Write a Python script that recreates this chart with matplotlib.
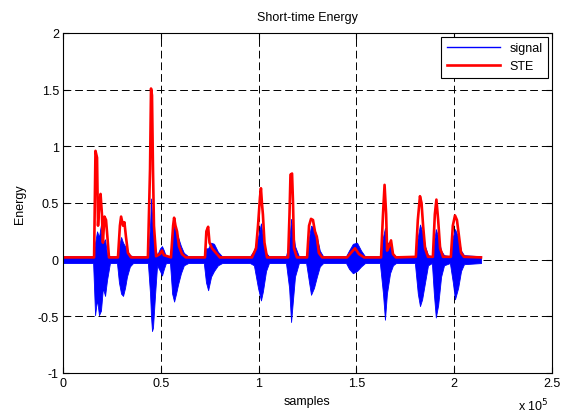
import numpy as np
import matplotlib
matplotlib.use("Agg")
import matplotlib.pyplot as plt

# envelope of the speech signal, x in thousands of samples
sig_k = [0, 15.4, 16.4, 17.4, 18.4, 19.4, 20.4, 21.5, 22.5, 24.0,
         27.6, 28.6, 29.7, 30.7, 31.7, 32.7, 34.2, 35.8,
         43.4, 44.5, 45.0, 45.5, 46.0, 47.1, 48.1, 49.6, 50.6, 51.6, 52.6,
         54.7, 55.8, 56.8, 57.8, 58.8, 60.3, 61.8, 64.0,
         72.0, 73.1, 74.2, 75.7, 77.2, 79.2, 81.3,
         95.6, 97.6, 99.7, 101.2, 102.2, 103.8, 105.3,
         114.0, 115.6, 116.6, 117.6, 118.6, 120.6,
         124.3, 125.8, 126.8, 128.3, 129.8, 131.3, 133.0,
         144.7, 146.2, 148.2, 150.3, 152.4, 154.4,
         162.0, 163.6, 164.6, 165.6, 167.2, 168.7, 170.2,
         179.9, 181.4, 182.5, 183.6, 185.1, 186.6,
         188.6, 189.6, 190.6, 191.8, 193.3, 194.8,
         197.8, 199.3, 200.4, 202.0, 203.5, 205.0, 213.7]
sig_hi = [0.03, 0.03, 0.15, 0.25, 0.20, 0.31, 0.15, 0.18, 0.05, 0.03,
          0.03, 0.12, 0.20, 0.15, 0.12, 0.08, 0.04, 0.03,
          0.03, 0.30, 0.54, 0.40, 0.25, 0.10, 0.04, 0.10, 0.12, 0.08, 0.03,
          0.03, 0.20, 0.30, 0.25, 0.20, 0.12, 0.06, 0.03,
          0.03, 0.10, 0.10, 0.15, 0.14, 0.07, 0.03,
          0.03, 0.08, 0.20, 0.32, 0.20, 0.06, 0.03,
          0.03, 0.15, 0.36, 0.25, 0.12, 0.03,
          0.03, 0.20, 0.30, 0.28, 0.20, 0.08, 0.03,
          0.03, 0.08, 0.14, 0.15, 0.08, 0.03,
          0.03, 0.20, 0.28, 0.15, 0.15, 0.05, 0.03,
          0.03, 0.20, 0.31, 0.25, 0.12, 0.04,
          0.03, 0.15, 0.27, 0.20, 0.08, 0.04,
          0.03, 0.20, 0.27, 0.20, 0.08, 0.04, 0.03]
sig_lo = [-0.03, -0.03, -0.49, -0.35, -0.49, -0.45, -0.25, -0.32, -0.18, -0.03,
          -0.03, -0.20, -0.30, -0.32, -0.25, -0.15, -0.06, -0.03,
          -0.03, -0.30, -0.50, -0.63, -0.60, -0.30, -0.05, -0.10, -0.14, -0.08, -0.03,
          -0.03, -0.30, -0.37, -0.30, -0.22, -0.12, -0.05, -0.03,
          -0.03, -0.20, -0.27, -0.15, -0.10, -0.05, -0.03,
          -0.03, -0.05, -0.25, -0.36, -0.28, -0.10, -0.03,
          -0.03, -0.25, -0.55, -0.35, -0.15, -0.03,
          -0.03, -0.20, -0.31, -0.25, -0.15, -0.06, -0.03,
          -0.03, -0.08, -0.12, -0.10, -0.06, -0.03,
          -0.03, -0.30, -0.53, -0.30, -0.12, -0.05, -0.03,
          -0.03, -0.30, -0.41, -0.35, -0.20, -0.05,
          -0.03, -0.30, -0.51, -0.40, -0.15, -0.05,
          -0.03, -0.20, -0.35, -0.25, -0.10, -0.04, -0.03]

# short-time energy curve
ste_k = [0, 15.9, 16.6, 17.4, 17.9, 18.4, 19.2, 19.9, 20.4, 21.2, 22.0, 22.7, 23.5,
         28.1, 29.1, 29.7, 30.7, 31.4, 32.2, 33.2, 34.8,
         43.4, 44.5, 45.0, 45.5, 46.0, 46.5, 47.6, 49.6, 50.6, 51.6,
         55.2, 56.3, 56.8, 57.5, 58.3, 59.3, 60.8, 62.8,
         72.6, 73.3, 74.2, 74.9, 76.2, 77.7, 80.2,
         96.6, 98.7, 99.7, 100.7, 101.2, 101.7, 102.2, 103.0, 104.3,
         115.1, 115.8, 116.3, 117.1, 117.6, 118.1, 119.6,
         124.8, 125.8, 126.8, 127.8, 128.8, 129.8, 130.8, 132.5,
         145.2, 147.2, 149.3, 151.3, 153.9,
         162.6, 163.6, 164.4, 165.2, 165.7, 166.7, 167.7, 168.7, 170.2,
         180.4, 181.4, 182.5, 183.3, 184.1, 185.1, 186.6,
         189.1, 190.1, 190.9, 191.8, 192.8, 194.3,
         198.3, 199.3, 200.4, 201.4, 202.5, 203.5, 205.0, 213.7]
ste = [0.02, 0.02, 0.96, 0.90, 0.30, 0.45, 0.58, 0.40, 0.15, 0.38, 0.35, 0.20, 0.02,
       0.02, 0.30, 0.38, 0.30, 0.33, 0.20, 0.06, 0.02,
       0.02, 0.80, 1.51, 1.45, 0.80, 0.30, 0.03, 0.05, 0.08, 0.04,
       0.02, 0.30, 0.37, 0.30, 0.25, 0.12, 0.05, 0.02,
       0.02, 0.25, 0.29, 0.15, 0.10, 0.07, 0.02,
       0.02, 0.10, 0.30, 0.55, 0.63, 0.50, 0.40, 0.15, 0.02,
       0.02, 0.40, 0.75, 0.76, 0.50, 0.10, 0.02,
       0.02, 0.30, 0.36, 0.35, 0.25, 0.20, 0.06, 0.02,
       0.02, 0.06, 0.10, 0.05, 0.02,
       0.02, 0.40, 0.66, 0.40, 0.08, 0.12, 0.17, 0.05, 0.02,
       0.025, 0.35, 0.56, 0.50, 0.30, 0.10, 0.025,
       0.025, 0.40, 0.53, 0.35, 0.10, 0.025,
       0.025, 0.30, 0.39, 0.35, 0.20, 0.06, 0.025, 0.02]

xticks = [0, 0.5, 1, 1.5, 2, 2.5]
yticks = [-1, -0.5, 0, 0.5, 1, 1.5, 2]

plt.rcParams['font.family'] = ['Liberation Sans', 'DejaVu Sans']

fig = plt.figure(figsize=(5.63, 4.14), dpi=100)
# axes box: x 63..552, y 34..374 px
ax = fig.add_axes([63 / 563, 40 / 414, 489 / 563, 340 / 414])
ax.set_axisbelow(True)

sx = np.array(sig_k) * 1000
ax.fill_between(sx, sig_lo, sig_hi, color='#0000ff', lw=0.6, edgecolor='#0000ff')
ax.plot([], [], color='#0000ff', lw=1, label='signal')
ax.plot(np.array(ste_k) * 1000, ste, color='#ff0000', lw=1.9, label='STE')

ax.set_xlim(0, 2.5e5)
ax.set_ylim(-1, 2)
ax.set_xticks([t * 1e5 for t in xticks])
ax.set_xticklabels([f"{t:g}" for t in xticks])
ax.set_yticks(yticks)
ax.set_yticklabels([f"{t:g}" for t in yticks])
ax.tick_params(direction='in', length=4, top=True, right=True, labelsize=9, width=0.8,
               pad=3)
ax.grid(True, color='black', ls=(0, (8, 4)), lw=0.7)
for s in ax.spines.values():
    s.set_linewidth(0.8)

ax.set_title('Short-time Energy', fontsize=9, pad=9)
ax.set_xlabel('samples', fontsize=9, labelpad=4)
ax.set_ylabel('Energy', fontsize=9, labelpad=8)
fig.text(0.92, 0.006, r'x 10$^5$', fontsize=9)

leg = ax.legend(loc='upper right', fontsize=9, fancybox=False, framealpha=1,
                edgecolor='black', borderaxespad=0.3, handlelength=4.2,
                labelspacing=0.45, borderpad=0.45)
leg.get_frame().set_linewidth(0.8)

fig.savefig('out.png', dpi=100)
